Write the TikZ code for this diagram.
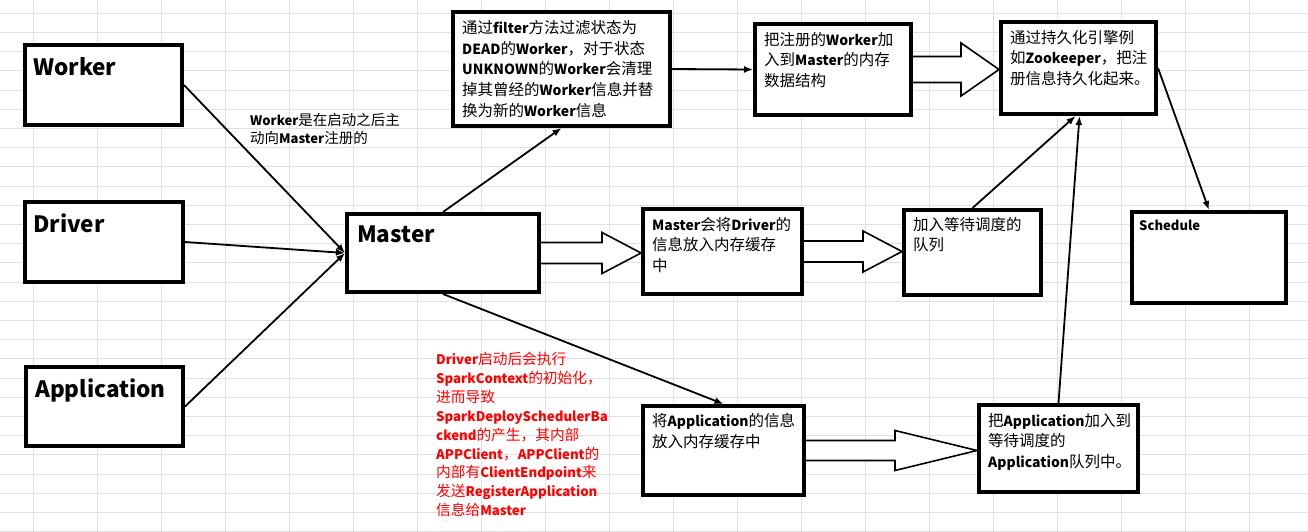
\documentclass[tikz,border=0pt]{standalone}
\usepackage{fontspec}
\setmainfont{Noto Sans CJK SC}[BoldFeatures={Scale=0.9}]
\usepackage{tikz}
\usetikzlibrary{positioning,fit}
\usetikzlibrary{calc}
\usetikzlibrary{arrows.meta}
\begin{document}
\begin{tikzpicture}[x=1pt,y=-1pt]
		\tikzset{
			box/.style={draw,fill=white,line width=4.2pt,inner sep=-2.1pt,outer sep=2.1pt},
			head/.style={inner sep=0pt,font=\fontsize{25}{29}\selectfont\bfseries},
			boxtext/.style={inner sep=0pt,align=left,font=\fontsize{15.5}{20.7}\selectfont},
			note/.style={inner sep=0pt,align=left,font=\fontsize{14.5}{18}\selectfont},
			link/.style={-{Latex[length=9pt,width=7pt]},line width=1.8pt},
			fat/.style={draw,fill=white,line width=1.6pt,line join=miter},
			gridline/.style={draw=black!12,line width=1pt},
		}
		\path[fill=white,use as bounding box] (0,0) rectangle (1308,532);
		\foreach \gx in {0,...,19}{
				\draw[gridline] (33.3+64*\gx,0) -- (33.3+64*\gx,532);
			}
		\foreach \gy in {0,...,27}{
				\draw[gridline] (0,13.3+19.2*\gy) -- (1308,13.3+19.2*\gy);
			}

		\node[box,fit={(23,43) (184,127)}] (worker) {};
		\node[box,fit={(23,200) (185,284)}] (driver) {};
		\node[box,fit={(24,365) (185,448)}] (app) {};
		\node[box,fit={(345,212) (541,294)}] (master) {};
		\node[box,fit={(451,10) (672,128)}] (filter) {};
		\node[box,fit={(753,22) (913,117)}] (register) {};
		\node[box,fit={(999,20) (1158,116)}] (persist) {};
		\node[box,fit={(641,207) (804,296)}] (drvinfo) {};
		\node[box,fit={(902,208) (1043,297)}] (waitq) {};
		\node[box,fit={(1130,210) (1288,305)}] (schedule) {};
		\node[box,fit={(641,404) (806,497)}] (appinfo) {};
		\node[box,fit={(977,403) (1140,494)}] (appq) {};

		\node[head,below right=14pt and 10pt of worker.north west] (workertxt) {Worker};
		\node[head,below right=14pt and 10pt of driver.north west] (drivertxt) {Driver};
		\node[head,below right=14pt and 11pt of app.north west] (apptxt) {Application};
		\node[head,below right=14pt and 12pt of master.north west] (mastertxt) {Master};
		\node[boxtext,below right=10pt and 11pt of filter.north west] (filtertxt) {通过\textbf{filter}方法过滤状态为\\\textbf{DEAD}的\textbf{Worker}，对于状态\\\textbf{UNKNOWN}的\textbf{Worker}会清理\\掉其曾经的\textbf{Worker}信息并替\\换为新的\textbf{Worker}信息};
		\node[boxtext,below right=10pt and 11pt of register.north west] (registertxt) {把注册的\textbf{Worker}加\\入到\textbf{Master}的内存\\数据结构};
		\node[boxtext,below right=10pt and 11pt of persist.north west] (persisttxt) {通过持久化引擎例\\如\textbf{Zookeeper}，把注\\册信息持久化起来。};
		\node[boxtext,below right=10pt and 11pt of drvinfo.north west] (drvinfotxt) {\textbf{Master}会将\textbf{Driver}的\\信息放入内存缓存\\中};
		\node[boxtext,below right=9pt and 11pt of waitq.north west] (waitqtxt) {加入等待调度的\\队列};
		\node[boxtext,font=\fontsize{14.5}{18}\selectfont\bfseries,below right=10pt and 9pt of schedule.north west] (scheduletxt) {Schedule};
		\node[boxtext,below right=9pt and 11pt of appinfo.north west] (appinfotxt) {将\textbf{Application}的信息\\放入内存缓存中};
		\node[boxtext,below right=10pt and 11pt of appq.north west] (appqtxt) {把\textbf{Application}加入到\\等待调度的\\\textbf{Application}队列中。};

		\node[note,anchor=north west] (workernote) at (250,113) {\textbf{Worker}是在启动之后主\\动向\textbf{Master}注册的};
		\node[note,red,font=\fontsize{14.7}{18.9}\selectfont,anchor=north west] (drivernote) at (436,352) {\textbf{Driver}启动后会执行\\\textbf{SparkContext}的初始化，\\进而导致\\\textbf{SparkDeploySchedulerBa}\\\textbf{ckend}的产生，其内部\\\textbf{APPClient}，\textbf{APPClient}的\\内部有\textbf{ClientEndpoint}来\\发送\textbf{RegisterApplication}\\信息给\textbf{Master}};

		\foreach \s in {worker,driver,app}{
				\draw[link] (\s.east) -- (master.west);
			}
		\draw[link] (master.north) -- (filter.south);
		\draw[link] (filter.east) -- (register.west);
		\draw[link] (master.south) -- (appinfo.north);
		\draw[link] (waitq.north) -- ([xshift=-3pt]persist.south);
		\draw[link] (appq.north) -- ([xshift=1pt]persist.south);
		\draw[link] (persist.east) -- (schedule.north);

		\foreach \a/\b/\h/\H/\L in {master/drvinfo/10.5/20.5/39,drvinfo/waitq/10.5/20.5/39,register/persist/13/26.5/38,appinfo/appq/10/20/82}{
				\coordinate (tip) at (\b.west |- \a.east);
				\draw[fat] ($(\a.east)+(0,\h)$) -- ($(tip)+(-\L,\h)$) -- ($(tip)+(-\L,\H)$) -- (tip) -- ($(tip)+(-\L,-\H)$) -- ($(tip)+(-\L,-\h)$) -- ($(\a.east)+(0,-\h)$);
			}
	\end{tikzpicture}
\end{document}
